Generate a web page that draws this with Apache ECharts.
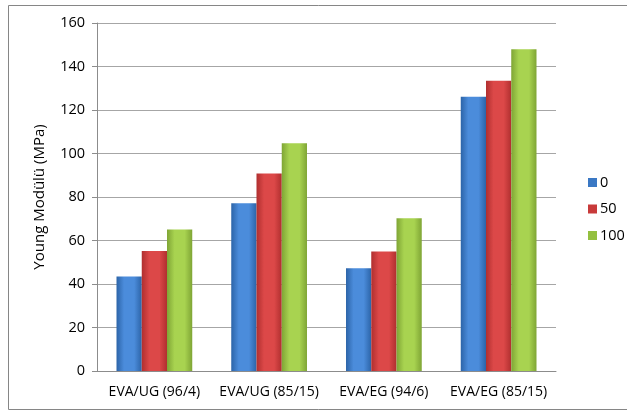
<!DOCTYPE html>
<html>
<head>
<meta charset="utf-8">
<script src="https://cdn.jsdelivr.net/npm/echarts@6/dist/echarts.min.js"></script>
<style>
  html, body { margin: 0; padding: 0; background: #fff; }
  #chart { width: 627px; height: 412px; }
</style>
</head>
<body>
<div id="chart"></div>
<script>
const categories = ["EVA/UG (96/4)", "EVA/UG (85/15)", "EVA/EG (94/6)", "EVA/EG (85/15)"];
const seriesNames = ["0", "50", "100"];
const values0 = [43.4, 77.1, 47.2, 126.1];
const values50 = [55.2, 90.8, 54.9, 133.5];
const values100 = [65.1, 104.7, 70.2, 147.9];
const yTicks = { min: 0, max: 160, interval: 20 };

// edge / middle colours for the bevelled look
const palette = [
  { edge: "#2c64a8", mid: "#4b8cdb", legend: "#3a78c4" },
  { edge: "#b02f2f", mid: "#dc4848", legend: "#c83a3a" },
  { edge: "#7fa535", mid: "#a8d350", legend: "#94c040" }
];

function barColor(p) {
  return new echarts.graphic.LinearGradient(0, 0, 1, 0, [
    { offset: 0, color: p.edge },
    { offset: 0.3, color: p.mid },
    { offset: 0.7, color: p.mid },
    { offset: 1, color: p.edge }
  ]);
}

const font = "'Open Sans', sans-serif";
const allValues = [values0, values50, values100];

const chart = echarts.init(document.getElementById("chart"));
chart.setOption({
  animation: false,
  textStyle: { fontFamily: font },
  graphic: [{
    type: "rect",
    shape: { x: 8.5, y: 5.5, width: 620, height: 404 },
    style: { fill: "none", stroke: "#868686", lineWidth: 1 }
  }],
  grid: { left: 97, right: 71, top: 23, bottom: 41 },
  legend: {
    orient: "vertical",
    left: 583,
    top: 170,
    itemWidth: 9,
    itemHeight: 9,
    itemGap: 11.5,
    textStyle: { fontSize: 14.5, color: "#000", fontFamily: font, padding: [0, 0, 0, -2] },
    data: seriesNames.map((n, i) => ({ name: n, icon: "rect", itemStyle: { color: palette[i].legend } }))
  },
  xAxis: {
    type: "category",
    data: categories,
    axisLine: { lineStyle: { color: "#8c8c8c" } },
    axisTick: { show: false },
    axisLabel: { color: "#000", fontSize: 14, margin: 14, interval: 0 }
  },
  yAxis: {
    type: "value",
    min: yTicks.min,
    max: yTicks.max,
    interval: yTicks.interval,
    name: "Young Modülü (MPa)",
    nameLocation: "middle",
    nameGap: 50,
    nameTextStyle: { color: "#000", fontSize: 15 },
    axisLine: { show: true, lineStyle: { color: "#8c8c8c" } },
    axisTick: { show: true, inside: false, length: 5, lineStyle: { color: "#8c8c8c" } },
    axisLabel: { color: "#000", fontSize: 14.5, margin: 12 },
    splitLine: { lineStyle: { color: "#a6a6a6" } }
  },
  series: seriesNames.map((n, i) => ({
    name: n,
    type: "bar",
    data: allValues[i],
    barGap: "0%",
    barCategoryGap: "34%",
    itemStyle: { color: barColor(palette[i]) }
  }))
});
</script>
</body>
</html>
